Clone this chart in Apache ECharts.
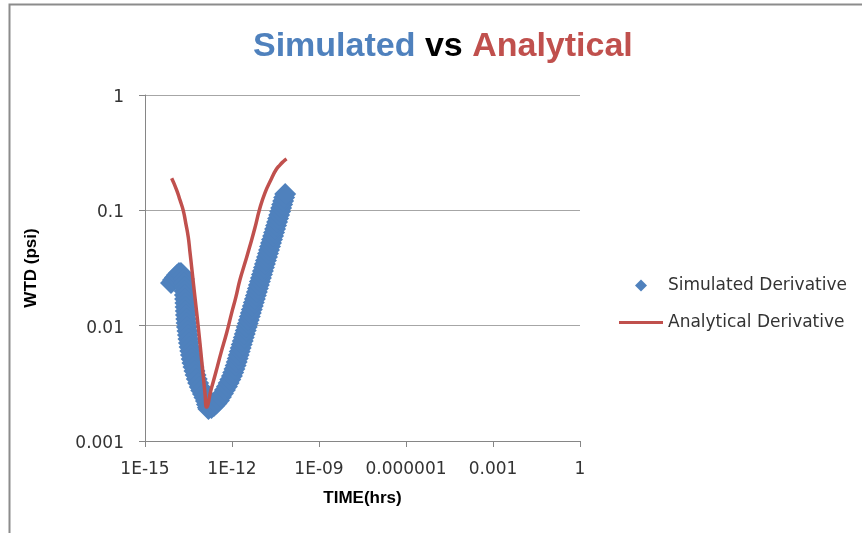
<!DOCTYPE html>
<html><head><meta charset="utf-8">
<script src="https://cdn.jsdelivr.net/npm/echarts@6/dist/echarts.min.js"></script>
<style>html,body{margin:0;padding:0;background:#fff}#c{width:862px;height:533px}</style>
</head><body><div id="c"></div>
<script>
// Simulated derivative (TIME hrs, WTD psi)
const simTime = [
  7.864e-15, 9.217e-15, 1.080e-14, 1.266e-14, 1.484e-14, 1.738e-14, 2.037e-14, 2.206e-14,
  2.206e-14, 2.259e-14, 2.313e-14, 2.369e-14, 2.406e-14, 2.465e-14, 2.504e-14, 2.544e-14,
  2.585e-14, 2.647e-14, 2.711e-14, 2.798e-14, 2.911e-14, 3.029e-14, 3.151e-14, 3.279e-14,
  3.438e-14, 3.634e-14, 3.843e-14, 4.063e-14, 4.328e-14, 4.686e-14, 5.072e-14, 5.534e-14,
  6.088e-14, 6.803e-14, 7.723e-14, 8.698e-14, 9.952e-14, 1.121e-13, 1.263e-13, 1.367e-13,
  1.480e-13, 1.540e-13, 1.953e-13, 2.382e-13, 2.904e-13, 3.542e-13, 4.150e-13, 4.864e-13,
  5.700e-13, 6.680e-13, 7.643e-13, 8.747e-13, 9.929e-13, 1.100e-12, 1.211e-12, 1.331e-12,
  1.453e-12, 1.573e-12, 1.703e-12, 1.844e-12,
  1.995e-12, 2.162e-12, 2.343e-12, 2.539e-12, 2.750e-12, 2.981e-12, 3.230e-12, 3.499e-12,
  3.791e-12, 4.109e-12, 4.452e-12, 4.823e-12, 5.226e-12, 5.663e-12, 6.137e-12, 6.647e-12,
  7.203e-12, 7.806e-12, 8.459e-12, 9.163e-12, 9.929e-12, 1.076e-11, 1.166e-11, 1.263e-11,
  1.368e-11, 1.483e-11, 1.607e-11, 1.741e-11, 1.886e-11, 2.044e-11, 2.215e-11, 2.400e-11,
  2.601e-11, 2.818e-11, 3.053e-11, 3.307e-11, 3.584e-11, 3.884e-11, 4.208e-11, 4.560e-11,
  4.941e-11, 5.353e-11, 5.800e-11, 6.284e-11, 6.811e-11
];
const simWTD = [
  0.02342, 0.02487, 0.02613, 0.02747, 0.02859, 0.02859, 0.02720, 0.02537,
  0.02342, 0.02162, 0.01995, 0.01843, 0.01702, 0.01571, 0.01450, 0.01338,
  0.01236, 0.01141, 0.01053, 0.009727, 0.008981, 0.008290, 0.007654, 0.007066,
  0.006524, 0.006022, 0.005560, 0.005134, 0.004739, 0.004374, 0.004040, 0.003730,
  0.003443, 0.003178, 0.002935, 0.002736, 0.002552, 0.002380, 0.002219, 0.002069,
  0.001949, 0.001891, 0.001929, 0.002008, 0.002111, 0.002242, 0.002403, 0.002578,
  0.002764, 0.002964, 0.003178, 0.003408, 0.003656, 0.003920, 0.004204, 0.004509,
  0.004835, 0.005185, 0.005560, 0.005963,
  0.006393, 0.006857, 0.007353, 0.007886, 0.008457, 0.009069, 0.009726, 0.01043,
  0.01118, 0.01199, 0.01286, 0.01379, 0.01479, 0.01586, 0.01702, 0.01824,
  0.01956, 0.02098, 0.02250, 0.02413, 0.02588, 0.02775, 0.02976, 0.03191,
  0.03422, 0.03670, 0.03936, 0.04221, 0.04527, 0.04854, 0.05206, 0.05582,
  0.05987, 0.06421, 0.06884, 0.07384, 0.07916, 0.08492, 0.09104, 0.09766,
  0.1047, 0.1123, 0.1204, 0.1291, 0.1385
];
// Analytical derivative
const anaTime = [
  8.31e-15, 1.236e-14, 1.61e-14, 2.09e-14, 2.58e-14, 3.10e-14, 3.55e-14, 4.06e-14,
  4.61e-14, 5.27e-14, 6.04e-14, 6.86e-14, 7.85e-14, 8.98e-14, 1.02e-13, 1.17e-13,
  1.33e-13, 1.88e-13, 2.79e-13, 4.15e-13, 6.52e-13, 9.70e-13, 1.36e-12, 1.87e-12,
  2.79e-12, 4.14e-12, 6.15e-12, 8.79e-12, 1.36e-11, 2.31e-11, 3.26e-11, 4.47e-11,
  5.90e-11, 7.60e-11
];
const anaWTD = [
  0.1895, 0.150, 0.1228, 0.0993, 0.0760, 0.0587, 0.0435, 0.0322,
  0.0239, 0.0177, 0.0131, 0.00973, 0.00706, 0.00503, 0.00366, 0.00260,
  0.00197, 0.00276, 0.00396, 0.00578, 0.00863, 0.01286, 0.0177, 0.0249,
  0.0349, 0.0490, 0.0702, 0.1006, 0.1413, 0.1887, 0.2237, 0.247,
  0.265, 0.279
];
const xTickLabels = ['1E-15', '1E-12', '1E-09', '0.000001', '0.001', '1'];
const yTickLabels = ['0.001', '0.01', '0.1', '1'];

const simData = simTime.map((t, i) => [t, simWTD[i]]);
const anaData = anaTime.map((t, i) => [t, anaWTD[i]]);

const chart = echarts.init(document.getElementById('c'), null, {renderer: 'canvas'});
const tickFont = {fontFamily: 'DejaVu Sans', fontSize: 17, color: '#333'};
chart.setOption({
  animation: false,
  backgroundColor: '#fff',
  title: {
    left: 248, top: 25,
    text: '{b|Simulated} {k|vs} {r|Analytical}',
    textStyle: {
      fontFamily: 'Liberation Sans', fontWeight: 'bold', fontSize: 34,
      rich: {
        b: {color: '#4F81BD', fontFamily: 'Liberation Sans', fontWeight: 'bold', fontSize: 34},
        k: {color: '#000000', fontFamily: 'Liberation Sans', fontWeight: 'bold', fontSize: 34},
        r: {color: '#C0504D', fontFamily: 'Liberation Sans', fontWeight: 'bold', fontSize: 34}
      }
    }
  },
  graphic: [{
    type: 'rect', left: 7, top: 2, silent: true,
    shape: {width: 900, height: 600},
    style: {fill: 'none', stroke: '#8c8c8c', lineWidth: 2}
  }],
  legend: {
    orient: 'vertical', left: 614, top: 272,
    itemWidth: 44, itemHeight: 12, itemGap: 20,
    symbolKeepAspect: true,
    textStyle: {fontFamily: 'DejaVu Sans', fontSize: 17, color: '#333'},
    data: [
      {name: 'Simulated Derivative', icon: 'path://M5,0L10,5L5,10L0,5Z'},
      {name: 'Analytical Derivative', icon: 'path://M0,0H44V3H0Z'}
    ]
  },
  grid: {left: 145, right: 282, top: 95, bottom: 92, containLabel: false},
  xAxis: {
    type: 'log', logBase: 10, min: 1e-15, max: 1, interval: 3,
    name: 'TIME(hrs)', nameLocation: 'middle', nameGap: 49,
    nameTextStyle: {fontFamily: 'Liberation Sans', fontWeight: 'bold', fontSize: 17, color: '#000'},
    axisLine: {show: true, lineStyle: {color: '#868686', width: 1}},
    axisTick: {show: true, length: 6, lineStyle: {color: '#868686'}},
    splitLine: {show: false},
    minorTick: {show: false},
    axisLabel: Object.assign({
      margin: 20,
      formatter: v => xTickLabels[Math.round((Math.log10(v) + 15) / 3)]
    }, tickFont)
  },
  yAxis: {
    type: 'log', logBase: 10, min: 0.001, max: 1, interval: 1,
    name: 'WTD (psi)', nameLocation: 'middle', nameGap: 105, nameRotate: 90,
    nameTextStyle: {fontFamily: 'Liberation Sans', fontWeight: 'bold', fontSize: 17, color: '#000'},
    axisLine: {show: true, lineStyle: {color: '#868686', width: 1}},
    axisTick: {show: true, length: 6, lineStyle: {color: '#868686'}},
    splitLine: {show: true, lineStyle: {color: '#a6a6a6', width: 1}},
    minorTick: {show: false},
    axisLabel: Object.assign({
      margin: 21,
      formatter: v => '{t|' + yTickLabels[Math.round(Math.log10(v) + 3)] + '}',
      rich: {t: {fontFamily: 'DejaVu Sans', fontSize: 17, color: '#333', padding: [5, 0, 0, 0]}}
    }, tickFont)
  },
  series: [
    {
      name: 'Simulated Derivative', type: 'scatter', symbol: 'diamond', symbolSize: 22,
      itemStyle: {color: '#4F81BD', opacity: 1},
      data: simData, z: 2
    },
    {
      name: 'Analytical Derivative', type: 'line', symbol: 'none', showSymbol: false, smooth: 0.5,
      lineStyle: {color: '#C0504D', width: 3.5},
      itemStyle: {color: '#C0504D'},
      data: anaData, z: 3
    }
  ]
});
</script>
</body></html>
